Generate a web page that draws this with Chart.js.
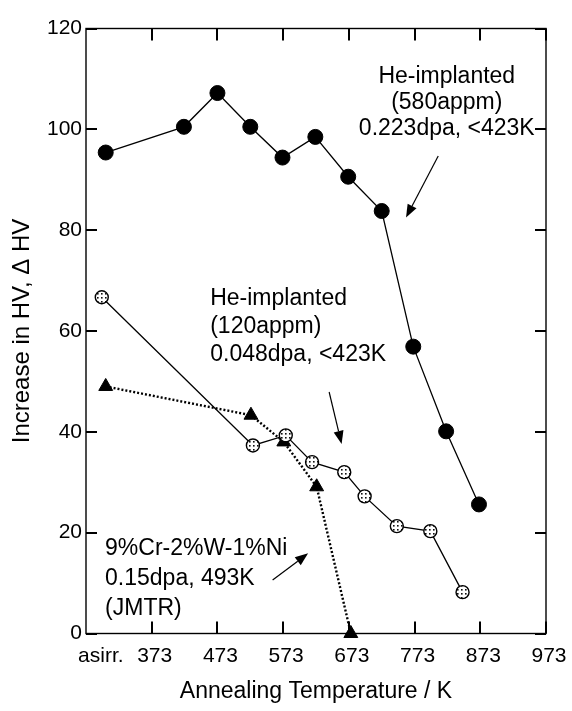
<!DOCTYPE html>
<html>
<head>
<meta charset="utf-8">
<script src="https://cdn.jsdelivr.net/npm/chart.js@4.4.1/dist/chart.umd.min.js"></script>
<style>
  body { margin: 0; background: #fff; }
  canvas { display: block; }
</style>
</head>
<body>
<canvas id="myChart" width="572" height="711"></canvas>
<script>
const FONT = "'Liberation Sans', Arial, sans-serif";

// annealing temperature (K) / hardness increase; first point of each series = as-irradiated
const tempHe580 = [303, 422, 473, 523, 572, 622, 672, 723, 771, 821, 871];
const hvHe580 = [95.4, 100.5, 107.2, 100.5, 94.4, 98.5, 90.6, 83.8, 56.9, 40.1, 25.6];

const tempHe120 = [297, 527, 577, 617, 666, 697, 746, 797, 846];
const hvHe120 = [66.7, 37.3, 39.3, 34.0, 32.0, 27.2, 21.3, 20.3, 8.2];

const tempJMTR = [303, 524, 574, 624, 676];
const hvJMTR = [49.0, 43.3, 38.0, 29.1, 0];

const xTicks = [373, 473, 573, 673, 773, 873, 973];
const asIrrPos = 291; // the "asirr." label
const yTicks = [0, 20, 40, 60, 80, 100, 120];

// text notes, anchored in data units
const notes = [
  {lines: ['He-implanted', '(580appm)', '0.223dpa, <423K'], x: 822, y: 110.5, align: 'center', gap: 26},
  {lines: ['He-implanted', '(120appm)', '0.048dpa, <423K'], x: 462, y: 66.4, align: 'left', gap: 28},
  {lines: ['9%Cr-2%W-1%Ni', '0.15dpa, 493K', '(JMTR)'], x: 302, y: 16.9, align: 'left', gap: 30}
];
const arrows = [
  {from: [809, 94.7], to: [760, 82.5]},
  {from: [643, 47.9], to: [662, 37.6]},
  {from: [557, 10.6], to: [611, 15.9]}
];

const canvas = document.getElementById('myChart');
const ctx0 = canvas.getContext('2d');

function stipple() {
  const c = document.createElement('canvas');
  c.width = 4; c.height = 4;
  const g = c.getContext('2d');
  g.fillStyle = '#fff';
  g.fillRect(0, 0, 4, 4);
  g.fillStyle = '#111';
  g.fillRect(1, 1, 1.6, 1.6);
  return ctx0.createPattern(c, 'repeat');
}

function pts(xs, ys) {
  return xs.map((t, i) => ({x: t, y: ys[i]}));
}

function drawFrame(chart) {
  const ctx = chart.ctx;
  const a = chart.chartArea;
  const x = chart.scales.x, y = chart.scales.y;
  ctx.save();
  ctx.setLineDash([]);
  ctx.strokeStyle = '#000';
  ctx.lineWidth = 1.4;
  ctx.strokeRect(a.left, a.top, a.right - a.left, a.bottom - a.top);
  ctx.lineWidth = 2;
  for (const t of xTicks) {
    const px = Math.round(x.getPixelForValue(t));
    ctx.beginPath();
    ctx.moveTo(px, a.bottom); ctx.lineTo(px, a.bottom - 12);
    ctx.moveTo(px, a.top); ctx.lineTo(px, a.top + 12);
    ctx.stroke();
  }
  for (const v of yTicks) {
    const py = Math.round(y.getPixelForValue(v));
    ctx.beginPath();
    ctx.moveTo(a.left, py); ctx.lineTo(a.left + 11, py);
    ctx.moveTo(a.right, py); ctx.lineTo(a.right - 11, py);
    ctx.stroke();
  }
  ctx.restore();
}

const frame = {
  id: 'frame',
  beforeDraw(chart) {
    const c = chart.ctx;
    c.save();
    c.fillStyle = '#fff';
    c.fillRect(0, 0, chart.width, chart.height);
    c.restore();
  },
  afterDraw(chart) {
    drawFrame(chart);
    const {ctx, scales: {x, y}} = chart;
    ctx.save();
    ctx.fillStyle = '#000';
    ctx.strokeStyle = '#000';
    ctx.font = '23px ' + FONT;
    ctx.textBaseline = 'middle';
    notes.forEach(n => {
      ctx.textAlign = n.align;
      const px = x.getPixelForValue(n.x);
      const py = y.getPixelForValue(n.y);
      n.lines.forEach((s, i) => ctx.fillText(s, px, py + i * n.gap));
    });
    ctx.lineWidth = 1.2;
    arrows.forEach(ar => {
      const x1 = x.getPixelForValue(ar.from[0]), y1 = y.getPixelForValue(ar.from[1]);
      const x2 = x.getPixelForValue(ar.to[0]), y2 = y.getPixelForValue(ar.to[1]);
      const ang = Math.atan2(y2 - y1, x2 - x1);
      const len = 13, half = 5;
      const bx = x2 - Math.cos(ang) * len, by = y2 - Math.sin(ang) * len;
      ctx.beginPath();
      ctx.moveTo(x1, y1);
      ctx.lineTo(bx, by);
      ctx.stroke();
      ctx.beginPath();
      ctx.moveTo(x2, y2);
      ctx.lineTo(bx - Math.sin(ang) * half, by + Math.cos(ang) * half);
      ctx.lineTo(bx + Math.sin(ang) * half, by - Math.cos(ang) * half);
      ctx.closePath();
      ctx.fill();
    });
    ctx.restore();
  }
};

const myChart = new Chart(canvas, {
  type: 'scatter',
  data: {
    datasets: [
      {
        label: 'He-implanted 580appm',
        data: pts(tempHe580, hvHe580),
        showLine: true,
        borderColor: '#000',
        borderWidth: 1.3,
        pointStyle: 'circle',
        pointRadius: 7.5,
        pointBackgroundColor: '#000',
        pointBorderColor: '#000',
        pointBorderWidth: 1,
        clip: false
      },
      {
        label: 'He-implanted 120appm',
        data: pts(tempHe120, hvHe120),
        showLine: true,
        borderColor: '#000',
        borderWidth: 1.3,
        pointStyle: 'circle',
        pointRadius: 6.5,
        pointBackgroundColor: stipple(),
        pointBorderColor: '#000',
        pointBorderWidth: 1.4,
        clip: false
      },
      {
        label: 'JMTR',
        data: pts(tempJMTR, hvJMTR),
        showLine: true,
        borderColor: '#000',
        borderWidth: 2.4,
        borderDash: [2, 2],
        pointStyle: 'triangle',
        pointRadius: 8,
        pointBackgroundColor: '#000',
        pointBorderColor: '#000',
        pointBorderWidth: 1,
        clip: false
      }
    ]
  },
  options: {
    responsive: false,
    animation: false,
    devicePixelRatio: 1,
    layout: {padding: {left: 0, right: 26, top: 28.5, bottom: 0}},
    plugins: {legend: {display: false}, tooltip: {enabled: false}},
    scales: {
      x: {
        type: 'linear',
        min: 273,
        max: 973,
        afterBuildTicks: s => { s.ticks = [asIrrPos, ...xTicks].map(v => ({value: v})); },
        afterFit: s => { s.height = 77.5; s.paddingLeft = 0; s.paddingRight = 0; },
        grid: {display: false, drawTicks: false},
        border: {display: false},
        ticks: {
          autoSkip: false,
          maxRotation: 0,
          padding: 10,
          labelOffset: 3,
          color: '#000',
          font: {family: FONT, size: 21},
          callback: v => v === asIrrPos ? 'asirr.' : String(v)
        },
        title: {
          display: true,
          text: 'Annealing Temperature / K',
          color: '#000',
          font: {family: FONT, size: 23},
          padding: {top: 0, bottom: 6}
        }
      },
      y: {
        min: 0,
        max: 120,
        afterFit: s => { s.width = 86; s.paddingTop = 0; s.paddingBottom = 0; },
        grid: {display: false, drawTicks: false},
        border: {display: false},
        ticks: {
          stepSize: 20,
          padding: 4,
          color: '#000',
          font: {family: FONT, size: 21}
        },
        title: {
          display: true,
          text: 'Increase in HV, Δ HV',
          color: '#000',
          font: {family: FONT, size: 24},
          padding: {top: 8, bottom: 0}
        }
      }
    }
  },
  plugins: [frame]
});
</script>
</body>
</html>
